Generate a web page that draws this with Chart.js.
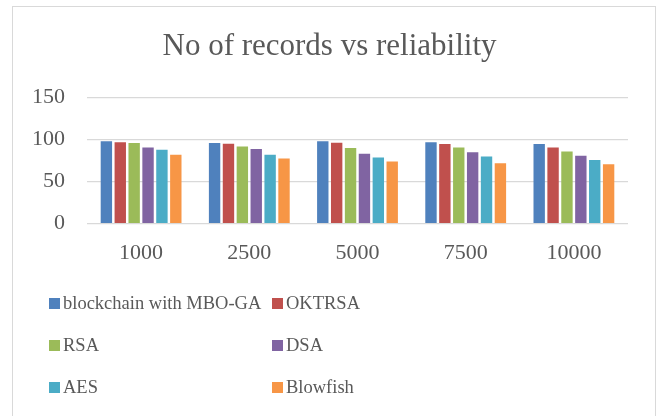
<!DOCTYPE html>
<html>
<head>
<meta charset="utf-8">
<script src="https://cdn.jsdelivr.net/npm/chart.js@4"></script>
<style>
  html, body { margin: 0; padding: 0; background: #fff; }
  #wrap { position: relative; width: 659px; height: 416px; overflow: hidden; }
  #frame { position: absolute; left: 12px; top: 6px; width: 644px; height: 430px; border: 1.5px solid #d9d9d9; box-sizing: border-box; }
  #legend { position: absolute; left: 49px; top: 282px; display: grid; grid-template-columns: 223px 200px; grid-auto-rows: 42px;
            font-family: 'Liberation Serif', 'Times New Roman', serif; font-size: 18.5px; color: #595959; }
  #legend div { display: flex; align-items: center; white-space: nowrap; }
  #legend span { display: inline-block; flex-shrink: 0; width: 11px; height: 11px; margin-right: 3px; }
</style>
</head>
<body>
<div id="wrap">
  <div id="frame"></div>
  <canvas id="reliability" width="659" height="416"></canvas>
  <div id="legend"></div>
</div>
<script>
// categories (no of records)
const records = ['1000', '2500', '5000', '7500', '10000'];

// reliability per method
const mboga = [97.6, 95.6, 97.6, 96.4, 94.4];
const oktrsa = [96.4, 94.8, 96.0, 94.4, 90.4];
const rsa = [95.6, 91.6, 89.6, 90.4, 85.6];
const dsa = [90.4, 88.4, 82.8, 84.8, 80.4];
const aes = [87.6, 81.6, 78.4, 79.6, 75.6];
const blowfish = [81.6, 77.2, 73.6, 71.6, 70.4];

const seriesNames = ['blockchain with MBO-GA', 'OKTRSA', 'RSA', 'DSA', 'AES', 'Blowfish'];
const seriesColors = ['#4F81BD', '#C0504D', '#9BBB59', '#8064A2', '#4BACC6', '#F79646'];
const yTicks = [0, 50, 100, 150];

const serif = "'Liberation Serif', 'Times New Roman', serif";
const allSeries = [mboga, oktrsa, rsa, dsa, aes, blowfish];

let chart = new Chart('reliability', {
  type: 'bar',
  data: {
    labels: records,
    datasets: allSeries.map((vals, i) => ({
      label: seriesNames[i],
      data: vals,
      backgroundColor: seriesColors[i],
      categoryPercentage: 0.77,
      barPercentage: 0.82,
    })),
  },
  options: {
    responsive: false,
    animation: false,
    layout: {
      padding: { left: 31, right: 31, top: 0, bottom: 142 }
    },
    plugins: {
      legend: { display: false },
      tooltip: { enabled: false },
      title: {
        display: true,
        text: 'No of records vs reliability',
        color: '#595959',
        font: { family: serif, size: 31, weight: 'normal' },
        padding: { top: 28, bottom: 32 }
      }
    },
    scales: {
      x: {
        grid: { display: false },
        border: { display: false },
        ticks: {
          color: '#595959',
          padding: 8,
          font: { family: serif, size: 22 }
        }
      },
      y: {
        min: 0,
        max: 150,
        afterFit: (scale) => { scale.width = 56; },
        afterBuildTicks: (scale) => { scale.ticks = yTicks.map(v => ({ value: v })); },
        grid: { color: '#d9d9d9', lineWidth: 1.3, drawTicks: false },
        border: { display: false },
        ticks: {
          color: '#595959',
          padding: 22,
          font: { family: serif, size: 22 }
        }
      }
    }
  }
});

// legend in two columns like the original
const legend = document.getElementById('legend');
chart.data.datasets.forEach(ds => {
  const item = document.createElement('div');
  const box = document.createElement('span');
  box.style.background = ds.backgroundColor;
  item.appendChild(box);
  item.appendChild(document.createTextNode(ds.label));
  legend.appendChild(item);
});
</script>
</body>
</html>
